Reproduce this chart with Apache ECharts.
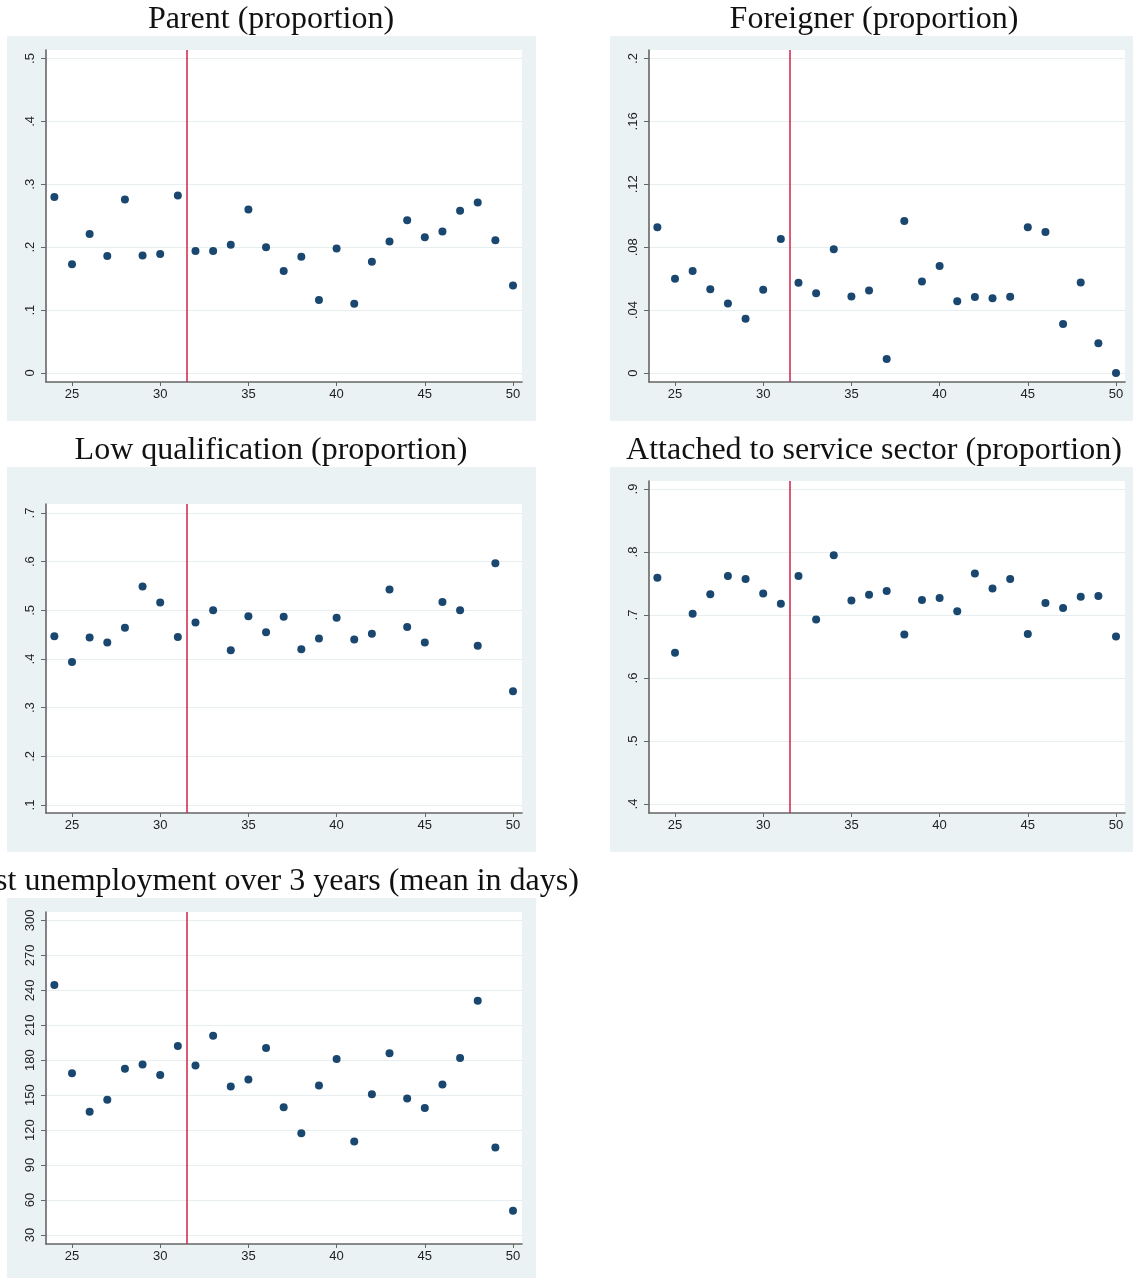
<!DOCTYPE html>
<html>
<head>
<meta charset="utf-8">
<script src="https://cdn.jsdelivr.net/npm/echarts@6/dist/echarts.min.js"></script>
<style>
html,body{margin:0;padding:0;background:#fff;}
#chart{width:1133px;height:1278px;}
</style>
</head>
<body>
<div id="chart"></div>
<script>
// ---- data ----
const ages = [24,25,26,27,28,29,30,31,32,33,34,35,36,37,38,39,40,41,42,43,44,45,46,47,48,49,50];
const parent = [0.280,0.173,0.221,0.186,0.276,0.187,0.189,0.282,0.194,0.194,0.204,0.260,0.200,0.162,0.185,0.116,0.198,0.110,0.177,0.209,0.243,0.216,0.225,0.258,0.271,0.211,0.139];
const foreigner = [0.0927,0.0599,0.0648,0.0533,0.0442,0.0345,0.0529,0.0853,0.0574,0.0508,0.0787,0.0487,0.0525,0.0089,0.0967,0.0582,0.0681,0.0457,0.0483,0.0476,0.0485,0.0927,0.0897,0.0311,0.0576,0.0190,0.0000];
const lowQual = [0.447,0.394,0.444,0.434,0.464,0.549,0.516,0.445,0.475,0.500,0.418,0.488,0.455,0.487,0.420,0.442,0.485,0.440,0.452,0.543,0.466,0.434,0.517,0.500,0.427,0.597,0.334];
const service = [0.759,0.640,0.702,0.733,0.762,0.757,0.734,0.718,0.762,0.693,0.795,0.723,0.732,0.738,0.669,0.724,0.727,0.706,0.766,0.742,0.757,0.670,0.719,0.711,0.729,0.730,0.666];
const unemp = [244.6,168.9,135.7,146.0,172.6,176.3,167.4,192.3,175.4,200.9,157.4,163.4,190.6,139.7,117.4,158.3,181.1,110.3,150.9,186.0,147.1,139.1,159.1,182.0,231.1,105.1,50.9];
const cutoff = 31.5;
const xTicks = [25,30,35,40,45,50];
const parentTicks = [0,0.1,0.2,0.3,0.4,0.5];
const foreignerTicks = [0,0.04,0.08,0.12,0.16,0.2];
const lowQualTicks = [0.1,0.2,0.3,0.4,0.5,0.6,0.7];
const serviceTicks = [0.4,0.5,0.6,0.7,0.8,0.9];
const unempTicks = [30,60,90,120,150,180,210,240,270,300];
const titles = ['Parent (proportion)','Foreigner (proportion)','Low qualification (proportion)','Attached to service sector (proportion)','Past unemployment over 3 years (mean in days)'];

// ---- layout ----
const panels = [
  {vals: parent,    ticks: parentTicks,    ymin: -0.0143, ymax: 0.5135, grid:[46,50,476,332],  bg:[7,36,529,385],   tx:271, ty:20,  prop:true},
  {vals: foreigner, ticks: foreignerTicks, ymin: -0.0057, ymax: 0.2054, grid:[649,50,476,332], bg:[610,36,529,385], tx:874, ty:20,  prop:true},
  {vals: lowQual,   ticks: lowQualTicks,   ymin: 0.0836,  ymax: 0.7185, grid:[46,504,476,309], bg:[7,467,529,385],  tx:271, ty:451, prop:true},
  {vals: service,   ticks: serviceTicks,   ymin: 0.3857,  ymax: 0.9127, grid:[649,481,476,332],bg:[610,467,529,385],tx:874, ty:451, prop:true},
  {vals: unemp,     ticks: unempTicks,     ymin: 22.3,    ymax: 307.2,  grid:[46,912,476,332], bg:[7,898,529,380],  tx:271, ty:882, prop:false}
];

const axisColor = '#666';
const labelFont = {fontFamily:'Liberation Sans, Arial, sans-serif', fontSize:13, color:'#222'};
function propFmt(v){
  if (Math.abs(v) < 1e-9) return '0';
  return String(+v.toFixed(3)).replace(/^0\./,'.');
}

const grids=[], xAxes=[], yAxes=[], series=[], graphics=[];
panels.forEach((p,i)=>{
  graphics.push({type:'rect', z:-10, shape:{x:p.bg[0],y:p.bg[1],width:p.bg[2],height:p.bg[3]}, style:{fill:'#EAF2F3'}, silent:true});
  graphics.push({type:'text', z:10, x:p.tx, y:p.ty, style:{text:titles[i], font:'32px "Liberation Serif", "Times New Roman", serif', fill:'#111', align:'center', verticalAlign:'middle'}});
  grids.push({left:p.grid[0], top:p.grid[1], width:p.grid[2], height:p.grid[3], show:true, backgroundColor:'#fff', borderWidth:0, containLabel:false, outerBoundsMode:'none'});
  xAxes.push({gridIndex:i, type:'value', min:23.526, max:50.51,
    axisLine:{show:true, onZero:false, lineStyle:{color:axisColor, width:1.6}},
    axisTick:{show:true, length:4, customValues:xTicks, lineStyle:{color:axisColor, width:1}},
    axisLabel:Object.assign({show:true, margin:6, customValues:xTicks}, labelFont),
    splitLine:{show:false}});
  yAxes.push({gridIndex:i, type:'value', min:p.ymin, max:p.ymax,
    axisLine:{show:true, onZero:false, lineStyle:{color:axisColor, width:1.6}},
    axisTick:{show:true, length:5, customValues:p.ticks, lineStyle:{color:axisColor, width:1}},
    axisLabel:Object.assign({show:true, margin:9, rotate:90, customValues:p.ticks,
      formatter: p.prop ? propFmt : (v)=>String(Math.round(v))}, labelFont),
    splitLine:{show:true, lineStyle:{color:'#e6eef0', width:1}}});
  series.push({type:'scatter', xAxisIndex:i, yAxisIndex:i,
    data: ages.map((a,k)=>[a, p.vals[k]]),
    symbol:'circle', symbolSize:8, itemStyle:{color:'#1a476f', opacity:1},
    markLine:{silent:true, symbol:['none','none'], label:{show:false},
      lineStyle:{color:'#d3204a', width:1.5, type:'solid'},
      data:[{xAxis:cutoff}]}});
});

const chart = echarts.init(document.getElementById('chart'), null, {renderer:'canvas'});
chart.setOption({
  animation:false,
  backgroundColor:'#fff',
  graphic:graphics,
  grid:grids, xAxis:xAxes, yAxis:yAxes, series:series
});
</script>
</body>
</html>
